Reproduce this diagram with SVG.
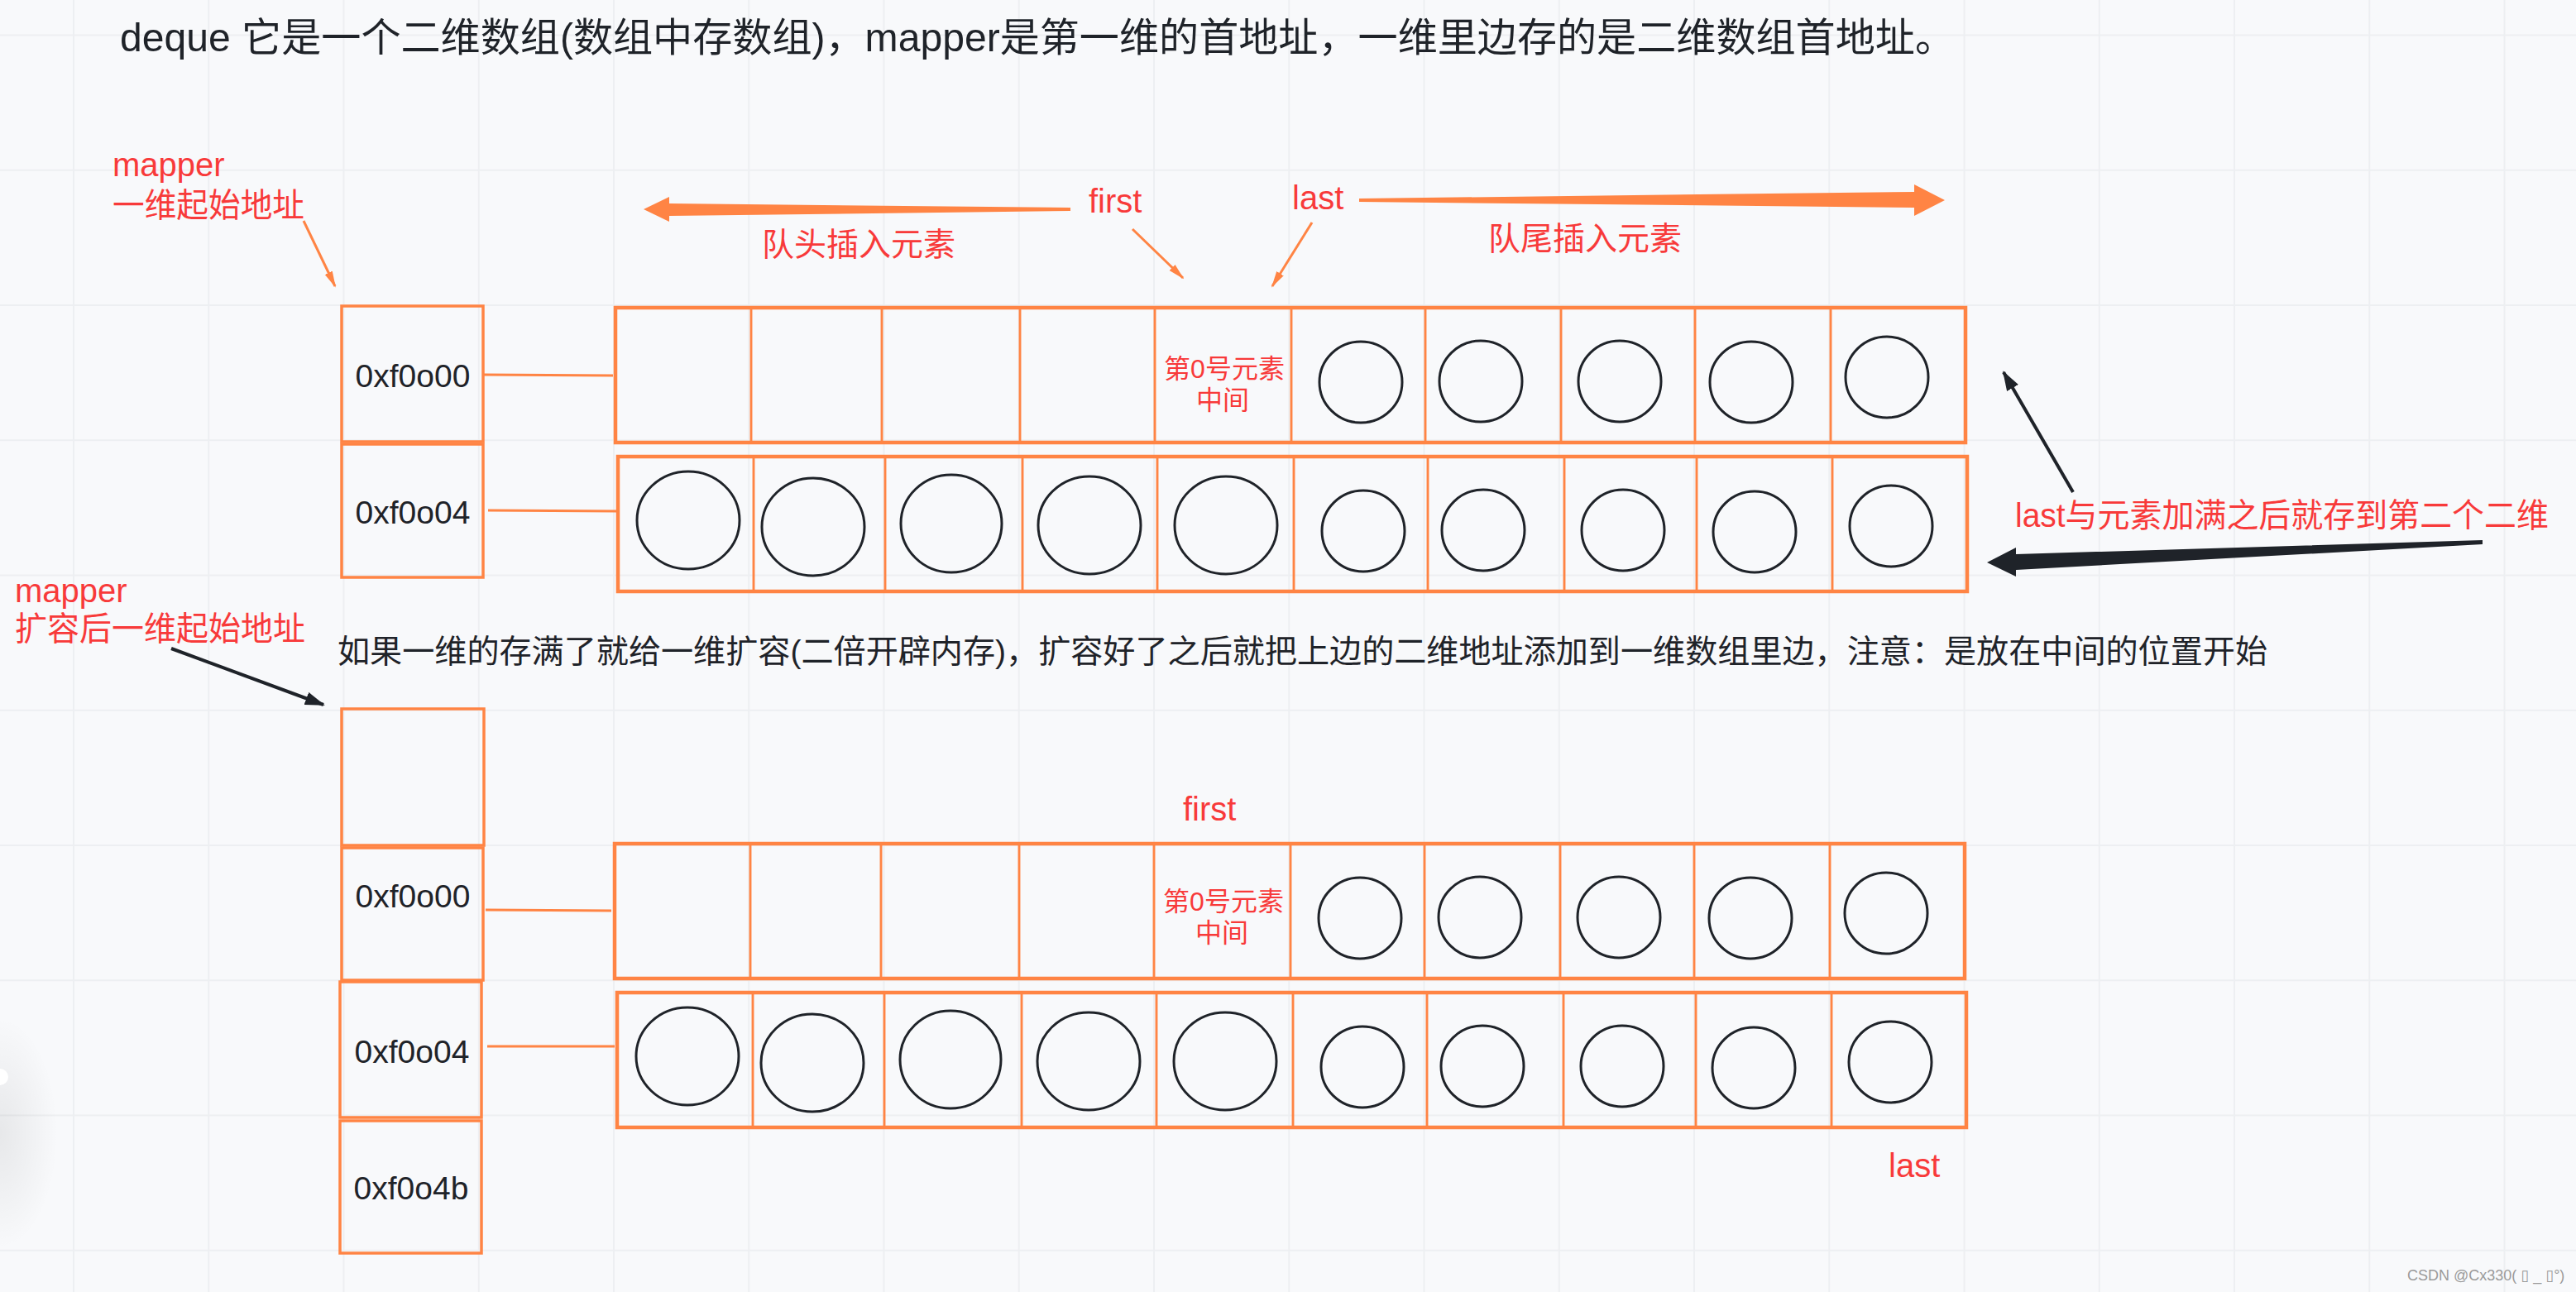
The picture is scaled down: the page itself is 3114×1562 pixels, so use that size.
<svg xmlns="http://www.w3.org/2000/svg" width="3114" height="1562" viewBox="0 0 3114 1562">
<defs>
<style>
.bg{fill:#F8F9FB}
.grid{stroke:#EDEFF2;stroke-width:2}
.cell{fill:none;stroke:#FF8444;stroke-width:2.5}
.outer{fill:none;stroke:#FF8444;stroke-width:4.5}
.mbox{fill:none;stroke:#FF8444;stroke-width:3.5}
.circ{fill:none;stroke:#1F2329;stroke-width:3}
.link{stroke:#FF8444;stroke-width:3;fill:none}
.oarrow{stroke:#FF8444;stroke-width:3;fill:none}
.barrow{stroke:#1F2329;stroke-width:4;fill:none}
.t{font-family:"Liberation Sans","Noto Sans CJK SC",sans-serif}
.title{font-size:48px;fill:#1F2329}
.body{font-size:39px;fill:#1F2329}
.red{font-size:40px;fill:#F83A3A}
.red39{font-size:39px;fill:#F83A3A}
.small{font-size:32px;fill:#F83A3A}
.addr{font-size:39px;fill:#1F2329}
.wm{font-family:"Liberation Sans","DejaVu Sans",sans-serif;font-size:18px;fill:#9A9A9A}
</style>
<marker id="mo" markerUnits="userSpaceOnUse" markerWidth="20" markerHeight="12" refX="18" refY="6" orient="auto">
<path d="M0,1 L20,6 L0,11 z" fill="#FF8444"/>
</marker>
<marker id="mb" markerUnits="userSpaceOnUse" markerWidth="24" markerHeight="16" refX="22" refY="8" orient="auto">
<path d="M0,0 L24,8 L0,16 z" fill="#1F2329"/>
</marker>
<radialGradient id="sh" cx="0.5" cy="0.5" r="0.5">
<stop offset="0" stop-color="#000" stop-opacity="0.07"/>
<stop offset="1" stop-color="#000" stop-opacity="0"/>
</radialGradient>
</defs>

<rect class="bg" x="0" y="0" width="3114" height="1562"/>
<g id="grid">
<path class="grid" d="M89,0V1562 M252.25,0V1562 M415.5,0V1562 M578.75,0V1562 M742,0V1562 M905.25,0V1562 M1068.5,0V1562 M1231.75,0V1562 M1395,0V1562 M1558.25,0V1562 M1721.5,0V1562 M1884.75,0V1562 M2048,0V1562 M2211.25,0V1562 M2374.5,0V1562 M2537.75,0V1562 M2701,0V1562 M2864.25,0V1562 M3027.5,0V1562"/>
<path class="grid" d="M0,42.5H3114 M0,205.75H3114 M0,369H3114 M0,532.25H3114 M0,695.5H3114 M0,858.75H3114 M0,1022H3114 M0,1185.25H3114 M0,1348.5H3114 M0,1511.75H3114"/>
</g>
<g id="edge-blob">
<ellipse cx="0" cy="1370" rx="70" ry="140" fill="url(#sh)"/>
<circle cx="0" cy="1302" r="10" fill="#FFFFFF"/>
</g>

<text class="t title" x="145" y="62" textLength="2218" lengthAdjust="spacingAndGlyphs">deque 它是一个二维数组(数组中存数组)，mapper是第一维的首地址，一维里边存的是二维数组首地址。</text>

<g id="label-mapper-top"><text class="t red" x="136" y="213">mapper</text><text class="t red" x="136" y="262" textLength="232" lengthAdjust="spacingAndGlyphs">一维起始地址</text></g>
<g id="label-first-top"><text class="t red" x="1316" y="257">first</text></g>
<g id="label-last-top"><text class="t red" x="1562" y="253">last</text></g>
<g id="label-head"><text class="t red39" x="921" y="309">队头插入元素</text></g>
<g id="label-tail"><text class="t red39" x="1799" y="302">队尾插入元素</text></g>
<g id="label-last-full"><text class="t red" x="2436" y="637" textLength="645" lengthAdjust="spacingAndGlyphs">last与元素加满之后就存到第二个二维</text></g>
<g id="label-mapper-mid"><text class="t red" x="18" y="728">mapper</text><text class="t red" x="18" y="774" textLength="351" lengthAdjust="spacingAndGlyphs">扩容后一维起始地址</text></g>
<g id="label-expand"><text class="t body" x="408" y="801" textLength="2333" lengthAdjust="spacingAndGlyphs">如果一维的存满了就给一维扩容(二倍开辟内存)，扩容好了之后就把上边的二维地址添加到一维数组里边，注意：是放在中间的位置开始</text></g>
<g id="label-first-bottom"><text class="t red" x="1430" y="992">first</text></g>
<g id="label-last-bottom"><text class="t red" x="2283" y="1423">last</text></g>

<!-- top mapper -->
<g id="map-top-0"><rect class="mbox" x="413" y="370" width="171" height="164"/><text class="t addr" x="499" y="468" text-anchor="middle">0xf0o00</text></g>
<g id="map-top-1"><rect class="mbox" x="413" y="537" width="171" height="161"/><text class="t addr" x="499" y="633" text-anchor="middle">0xf0o04</text></g>

<!-- top row 1 -->
<g id="row-top-1">
<rect class="cell" x="744" y="372" width="164" height="163"/>
<rect class="cell" x="908" y="372" width="158" height="163"/>
<rect class="cell" x="1066" y="372" width="167" height="163"/>
<rect class="cell" x="1233" y="372" width="163" height="163"/>
<rect class="cell" x="1396" y="372" width="165" height="163"/>
<rect class="cell" x="1561" y="372" width="162" height="163"/>
<rect class="cell" x="1723" y="372" width="164" height="163"/>
<rect class="cell" x="1887" y="372" width="162" height="163"/>
<rect class="cell" x="2049" y="372" width="164" height="163"/>
<rect class="cell" x="2213" y="372" width="163" height="163"/>
<rect class="outer" x="744" y="372" width="1632" height="163"/>
<text class="t small" x="1480" y="457" text-anchor="middle">第0号元素</text>
<text class="t small" x="1478" y="495" text-anchor="middle">中间</text>
<ellipse class="circ" cx="1645" cy="462" rx="50" ry="49"/>
<ellipse class="circ" cx="1790" cy="461" rx="50" ry="49"/>
<ellipse class="circ" cx="1958" cy="461" rx="50" ry="49"/>
<ellipse class="circ" cx="2117" cy="462" rx="50" ry="49"/>
<ellipse class="circ" cx="2281" cy="456" rx="50" ry="49"/>
</g>
<!-- top row 2 -->
<g id="row-top-2">
<rect class="cell" x="747" y="552" width="164" height="163"/>
<rect class="cell" x="911" y="552" width="159" height="163"/>
<rect class="cell" x="1070" y="552" width="166" height="163"/>
<rect class="cell" x="1236" y="552" width="163" height="163"/>
<rect class="cell" x="1399" y="552" width="165" height="163"/>
<rect class="cell" x="1564" y="552" width="162" height="163"/>
<rect class="cell" x="1726" y="552" width="165" height="163"/>
<rect class="cell" x="1891" y="552" width="160" height="163"/>
<rect class="cell" x="2051" y="552" width="164" height="163"/>
<rect class="cell" x="2215" y="552" width="163" height="163"/>
<rect class="outer" x="747" y="552" width="1631" height="163"/>
<ellipse class="circ" cx="832" cy="629" rx="62" ry="59"/>
<ellipse class="circ" cx="983" cy="637" rx="62" ry="59"/>
<ellipse class="circ" cx="1150" cy="633" rx="61" ry="59"/>
<ellipse class="circ" cx="1317" cy="635" rx="62" ry="59"/>
<ellipse class="circ" cx="1482" cy="635" rx="62" ry="59"/>
<ellipse class="circ" cx="1648" cy="642" rx="50" ry="49"/>
<ellipse class="circ" cx="1793" cy="641" rx="50" ry="49"/>
<ellipse class="circ" cx="1962" cy="641" rx="50" ry="49"/>
<ellipse class="circ" cx="2121" cy="643" rx="50" ry="49"/>
<ellipse class="circ" cx="2286" cy="636" rx="50" ry="49"/>
</g>

<!-- bottom mapper -->
<g id="map-bot-empty"><rect class="mbox" x="413" y="857" width="172" height="165"/></g>
<g id="map-bot-0"><rect class="mbox" x="413" y="1025" width="171" height="160"/><text class="t addr" x="499" y="1097" text-anchor="middle">0xf0o00</text></g>
<g id="map-bot-1"><rect class="mbox" x="411" y="1187" width="171" height="164"/><text class="t addr" x="498" y="1285" text-anchor="middle">0xf0o04</text></g>
<g id="map-bot-2"><rect class="mbox" x="411" y="1355" width="171" height="160"/><text class="t addr" x="497" y="1450" text-anchor="middle">0xf0o4b</text></g>

<!-- bottom row 1 -->
<g id="row-bot-1" transform="translate(-1,648)">
<rect class="cell" x="744" y="372" width="164" height="163"/>
<rect class="cell" x="908" y="372" width="158" height="163"/>
<rect class="cell" x="1066" y="372" width="167" height="163"/>
<rect class="cell" x="1233" y="372" width="163" height="163"/>
<rect class="cell" x="1396" y="372" width="165" height="163"/>
<rect class="cell" x="1561" y="372" width="162" height="163"/>
<rect class="cell" x="1723" y="372" width="164" height="163"/>
<rect class="cell" x="1887" y="372" width="162" height="163"/>
<rect class="cell" x="2049" y="372" width="164" height="163"/>
<rect class="cell" x="2213" y="372" width="163" height="163"/>
<rect class="outer" x="744" y="372" width="1632" height="163"/>
<text class="t small" x="1480" y="453" text-anchor="middle">第0号元素</text>
<text class="t small" x="1478" y="491" text-anchor="middle">中间</text>
<ellipse class="circ" cx="1645" cy="462" rx="50" ry="49"/>
<ellipse class="circ" cx="1790" cy="461" rx="50" ry="49"/>
<ellipse class="circ" cx="1958" cy="461" rx="50" ry="49"/>
<ellipse class="circ" cx="2117" cy="462" rx="50" ry="49"/>
<ellipse class="circ" cx="2281" cy="456" rx="50" ry="49"/>
</g>
<!-- bottom row 2 -->
<g id="row-bot-2" transform="translate(-1,648)">
<rect class="cell" x="747" y="552" width="164" height="163"/>
<rect class="cell" x="911" y="552" width="159" height="163"/>
<rect class="cell" x="1070" y="552" width="166" height="163"/>
<rect class="cell" x="1236" y="552" width="163" height="163"/>
<rect class="cell" x="1399" y="552" width="165" height="163"/>
<rect class="cell" x="1564" y="552" width="162" height="163"/>
<rect class="cell" x="1726" y="552" width="165" height="163"/>
<rect class="cell" x="1891" y="552" width="160" height="163"/>
<rect class="cell" x="2051" y="552" width="164" height="163"/>
<rect class="cell" x="2215" y="552" width="163" height="163"/>
<rect class="outer" x="747" y="552" width="1631" height="163"/>
<ellipse class="circ" cx="832" cy="629" rx="62" ry="59"/>
<ellipse class="circ" cx="983" cy="637" rx="62" ry="59"/>
<ellipse class="circ" cx="1150" cy="633" rx="61" ry="59"/>
<ellipse class="circ" cx="1317" cy="635" rx="62" ry="59"/>
<ellipse class="circ" cx="1482" cy="635" rx="62" ry="59"/>
<ellipse class="circ" cx="1648" cy="642" rx="50" ry="49"/>
<ellipse class="circ" cx="1793" cy="641" rx="50" ry="49"/>
<ellipse class="circ" cx="1962" cy="641" rx="50" ry="49"/>
<ellipse class="circ" cx="2121" cy="643" rx="50" ry="49"/>
<ellipse class="circ" cx="2286" cy="636" rx="50" ry="49"/>
</g>

<g id="connectors">
<line class="link" x1="585" y1="453" x2="741" y2="454"/>
<line class="link" x1="590" y1="617" x2="745" y2="618"/>
<line class="link" x1="587" y1="1100" x2="739" y2="1101"/>
<line class="link" x1="589" y1="1265" x2="743" y2="1265"/>
<line class="oarrow" x1="367" y1="267" x2="405" y2="346" marker-end="url(#mo)"/>
<line class="oarrow" x1="1369" y1="277" x2="1430" y2="336" marker-end="url(#mo)"/>
<line class="oarrow" x1="1586" y1="269" x2="1538" y2="346" marker-end="url(#mo)"/>
<polygon fill="#FF8444" points="778,253 809,238 809,246 1294,251 1294,255 809,261 809,268"/>
<polygon fill="#FF8444" points="1643,240 2314,232 2314,223 2351,242 2314,261 2314,251 1643,244"/>
<line class="barrow" x1="2506" y1="595" x2="2422" y2="450" marker-end="url(#mb)"/>
<polygon fill="#1F2329" points="2402,680 2437,662 2437,670 3001,653 3001,658 2437,689 2437,697"/>
<line class="barrow" x1="207" y1="784" x2="391" y2="852" marker-end="url(#mb)"/>
</g>

<text class="wm" x="2910" y="1548">CSDN @Cx330( ▯ _ ▯°)</text>
</svg>
